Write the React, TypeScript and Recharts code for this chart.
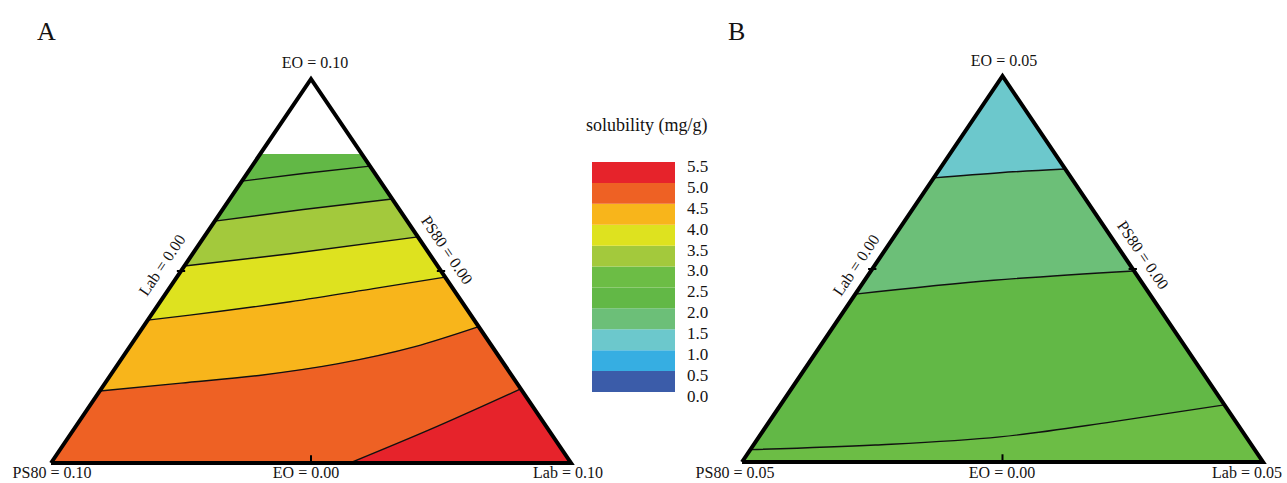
import React from 'react'
import { ComposedChart, Area, Line, XAxis, YAxis, BarChart, Bar } from 'recharts'

type Pt = { u: number; v: number }

// colour scale for solubility (mg/g), one colour per 0.5 step from 0.0 up to 5.5
const levelTicks = [0, 0.5, 1, 1.5, 2, 2.5, 3, 3.5, 4, 4.5, 5, 5.5]
const levelColors = [
  '#3b5ca9', '#36aee2', '#6cc8cc', '#6cbf78', '#62b846',
  '#6cbd45', '#a3c93c', '#dee21f', '#f8b51b', '#ee6124', '#e6232b',
]

// panel A contour lines; u = position along the base (0..1), v = height (0..1)
const aTopEdge: Pt[] = [{ u: 0.4025, v: 0.805 }, { u: 0.5975, v: 0.805 }]
const aLine1: Pt[] = [{ u: 0.367, v: 0.734 }, { u: 0.485, v: 0.754 }, { u: 0.613, v: 0.773 }]
const aLine2: Pt[] = [{ u: 0.315, v: 0.63 }, { u: 0.485, v: 0.66 }, { u: 0.656, v: 0.6875 }]
const aLine3: Pt[] = [{ u: 0.2565, v: 0.513 }, { u: 0.46, v: 0.545 }, { u: 0.706, v: 0.589 }]
const aLine4: Pt[] = [{ u: 0.186, v: 0.372 }, { u: 0.267, v: 0.385 }, { u: 0.46, v: 0.42 }, { u: 0.62, v: 0.454 }, { u: 0.758, v: 0.484 }]
const aLine5: Pt[] = [{ u: 0.094, v: 0.1875 }, { u: 0.25, v: 0.208 }, { u: 0.4, v: 0.228 }, { u: 0.55, v: 0.258 }, { u: 0.7, v: 0.303 }, { u: 0.8225, v: 0.355 }]
const aLine6: Pt[] = [{ u: 0.575, v: 0 }, { u: 0.727, v: 0.086 }, { u: 0.9035, v: 0.193 }]

// panel B contour lines
const bApex: Pt[] = [{ u: 0.5, v: 1 }]
const bLine1: Pt[] = [{ u: 0.368, v: 0.736 }, { u: 0.495, v: 0.7495 }, { u: 0.6205, v: 0.759 }]
const bLine2: Pt[] = [{ u: 0.2175, v: 0.435 }, { u: 0.483, v: 0.4707 }, { u: 0.7525, v: 0.495 }]
const bLine3: Pt[] = [{ u: 0.016, v: 0.032 }, { u: 0.2557, v: 0.044 }, { u: 0.495, v: 0.065 }, { u: 0.71, v: 0.104 }, { u: 0.926, v: 0.148 }]

const frame: Pt[] = [{ u: 0, v: 0 }, { u: 0.5, v: 1 }, { u: 1, v: 0 }, { u: 0, v: 0 }]
const tickMarks: Pt[][] = [
  [{ u: 0.5, v: 0 }, { u: 0.5, v: 0.02 }],
  [{ u: 0.242, v: 0.5 }, { u: 0.258, v: 0.5 }],
  [{ u: 0.742, v: 0.5 }, { u: 0.758, v: 0.5 }],
]

// region under a contour line, closed down to the base of the triangle
const below = (line: Pt[]) => [{ u: 0, v: 0 }, ...line, { u: 1, v: 0 }]

type Band = { pts: Pt[]; color: string; line?: Pt[] }

const bandsA: Band[] = [
  { pts: below(aTopEdge), color: levelColors[4] },
  { pts: below(aLine1), color: levelColors[5], line: aLine1 },
  { pts: below(aLine2), color: levelColors[6], line: aLine2 },
  { pts: below(aLine3), color: levelColors[7], line: aLine3 },
  { pts: below(aLine4), color: levelColors[8], line: aLine4 },
  { pts: below(aLine5), color: levelColors[9], line: aLine5 },
  { pts: below(aLine6), color: levelColors[10], line: aLine6 },
]

const bandsB: Band[] = [
  { pts: below(bApex), color: levelColors[2] },
  { pts: below(bLine1), color: levelColors[3], line: bLine1 },
  { pts: below(bLine2), color: levelColors[4], line: bLine2 },
  { pts: below(bLine3), color: levelColors[5], line: bLine3 },
]

const FONT = '"Liberation Serif", "Times New Roman", serif'
const INK = '#141212'

function Ternary({ bands, left, top, width, height }: { bands: Band[]; left: number; top: number; width: number; height: number }) {
  return (
    <div style={{ position: 'absolute', left, top }}>
      <ComposedChart width={width} height={height} margin={{ top: 10, right: 10, bottom: 10, left: 10 }}>
        <XAxis type="number" dataKey="u" domain={[0, 1]} hide />
        <YAxis type="number" dataKey="v" domain={[0, 1]} hide />
        {bands.map((b, i) => (
          <Area
            key={`band-${i}`}
            data={b.pts}
            dataKey="v"
            type="linear"
            fill={b.color}
            fillOpacity={1}
            stroke="none"
            dot={false}
            activeDot={false}
            isAnimationActive={false}
          />
        ))}
        {bands.filter(b => b.line).map((b, i) => (
          <Line key={`contour-${i}`} data={b.line} dataKey="v" type="monotone" stroke="#111" strokeWidth={1.4} dot={false} activeDot={false} isAnimationActive={false} />
        ))}
        <Line data={frame} dataKey="v" type="linear" stroke="#000" strokeWidth={4} strokeLinejoin="miter" dot={false} activeDot={false} isAnimationActive={false} />
        {tickMarks.map((t, i) => (
          <Line key={`tick-${i}`} data={t} dataKey="v" type="linear" stroke="#000" strokeWidth={2} dot={false} activeDot={false} isAnimationActive={false} />
        ))}
      </ComposedChart>
    </div>
  )
}

const legendRow = [levelColors.reduce((acc, _c, i) => ({ ...acc, [`l${i}`]: levelTicks[i + 1] - levelTicks[i] }), { name: 'scale' } as Record<string, any>)]

function ColorScale() {
  return (
    <div style={{ position: 'absolute', left: 592, top: 152 }}>
      <BarChart width={130} height={265} data={legendRow} margin={{ top: 10, right: 0, bottom: 25, left: 0 }} barCategoryGap={0} barGap={0}>
        <XAxis dataKey="name" hide />
        <YAxis
          orientation="right"
          type="number"
          domain={[0, 5.5]}
          ticks={levelTicks}
          width={47}
          axisLine={false}
          tickLine={false}
          tickMargin={6}
          interval={0}
          tick={({ x, y, payload }: any) => (
            <text x={x} y={y + 4} dy="0.35em" textAnchor="start" fontSize={17} fontFamily={FONT} fill={INK}>
              {Number(payload.value).toFixed(1)}
            </text>
          )}
        />
        {levelColors.map((c, i) => (
          <Bar key={`l${i}`} dataKey={`l${i}`} stackId="s" fill={c} isAnimationActive={false} />
        ))}
      </BarChart>
    </div>
  )
}

function Labels() {
  const t = (x: number, y: number, s: string, anchor = 'middle', size = 16, rot = 0) => (
    <text
      key={`${s}-${x}`}
      x={x}
      y={y}
      textAnchor={anchor as any}
      fontSize={size}
      fontFamily={FONT}
      fill={INK}
      dominantBaseline={rot ? 'central' : undefined}
      transform={rot ? `rotate(${rot} ${x} ${y})` : undefined}
    >
      {s}
    </text>
  )
  return (
    <svg width={1287} height={483} style={{ position: 'absolute', left: 0, top: 0, pointerEvents: 'none' }}>
      {t(37, 40, 'A', 'start', 26)}
      {t(728, 40, 'B', 'start', 26)}
      {t(315, 68, 'EO = 0.10')}
      {t(1004, 66, 'EO = 0.05')}
      {t(52, 478, 'PS80 = 0.10')}
      {t(306, 478, 'EO = 0.00')}
      {t(568, 478, 'Lab = 0.10')}
      {t(735, 478, 'PS80 = 0.05')}
      {t(1002, 478, 'EO = 0.00')}
      {t(1247, 478, 'Lab = 0.05')}
      {t(162, 265, 'Lab = 0.00', 'middle', 16, -56)}
      {t(447, 250, 'PS80 = 0.00', 'middle', 16, 56)}
      {t(856, 265, 'Lab = 0.00', 'middle', 16, -56)}
      {t(1143, 255, 'PS80 = 0.00', 'middle', 16, 56)}
      {t(586, 131, 'solubility (mg/g)', 'start', 18)}
    </svg>
  )
}

export default function App() {
  return (
    <div style={{ position: 'absolute', left: 0, top: 0, width: 1287, height: 483, background: '#fff', overflow: 'hidden' }}>
      <Ternary bands={bandsA} left={41} top={69} width={540} height={404} />
      <Ternary bands={bandsB} left={732} top={66} width={541} height={406} />
      <ColorScale />
      <Labels />
    </div>
  )
}
